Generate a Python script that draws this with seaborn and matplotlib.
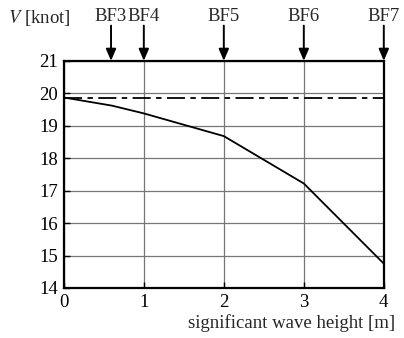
import pandas as pd
import seaborn as sns
import matplotlib.pyplot as plt

# speed vs. significant wave height
wave_height = [0.0, 0.6, 1.0, 2.0, 3.0, 4.0]
speed = [19.87, 19.62, 19.38, 18.68, 17.22, 14.75]
# still-water speed (dash-dot line)
calm_speed = 19.87
# Beaufort scale markers
bf_labels = ['BF3', 'BF4', 'BF5', 'BF6', 'BF7']
bf_positions = [0.59, 1.0, 2.0, 3.0, 4.0]

df = pd.DataFrame({'H': wave_height, 'V': speed})

sns.set_style('white')
plt.rcParams['font.family'] = ['Liberation Serif', 'DejaVu Serif']
plt.rcParams['mathtext.fontset'] = 'stix'

fig = plt.figure(figsize=(4.04, 3.38), dpi=100)
ax = fig.add_axes([0.158, 0.148, 0.792, 0.672])

sns.lineplot(data=df, x='H', y='V', color='black', linewidth=1.3, ax=ax)
ax.axhline(calm_speed, color='black', linewidth=1.3, dashes=(10, 3, 3, 3))

ax.set_xlim(0, 4)
ax.set_ylim(14, 21)
ax.set_xticks(range(0, 5))
ax.set_yticks(range(14, 22))
ax.grid(True, color='#777777', linewidth=0.9)
ax.set_axisbelow(True)
for s in ax.spines.values():
    s.set_color('black')
    s.set_linewidth(1.6)
ax.tick_params(direction='in', length=4, width=1, colors='black',
               labelsize=13.5, pad=4, left=True, bottom=True)
ax.set_xlabel('')
ax.set_ylabel('')

# Beaufort arrows above the frame
for lab, pos in zip(bf_labels, bf_positions):
    ax.annotate('', xy=(pos, 1.0), xytext=(pos, 1.155),
                xycoords=('data', 'axes fraction'),
                arrowprops=dict(arrowstyle='-|>,head_length=0.7,head_width=0.3',
                                color='black', lw=1.4, shrinkA=0, shrinkB=0))
    ax.text(pos, 1.195, lab, transform=ax.get_xaxis_transform(),
            ha='center', va='center', fontsize=13.5)

fig.text(0.02, 0.948, '$V$ [knot]', ha='left', va='center', fontsize=13.5)
fig.text(0.978, 0.043, 'significant wave height [m]', ha='right', va='center',
         fontsize=13.5)

fig.savefig('out.png', dpi=100)
